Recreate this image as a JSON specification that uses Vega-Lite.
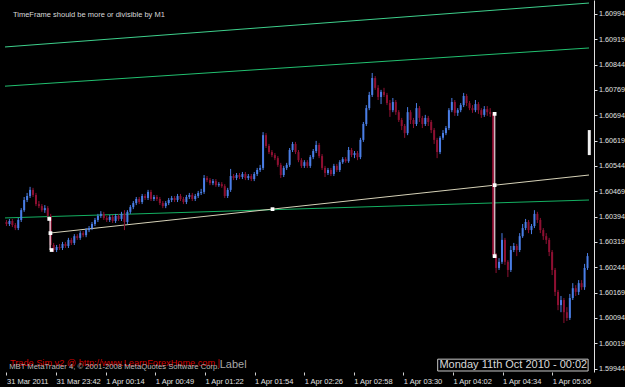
{
"$schema": "https://vega.github.io/schema/vega-lite/v6.json",
"width": 594, "height": 372,
"autosize": {"type": "none"},
"padding": {"left": 0, "top": 0, "right": 31, "bottom": 15},
"background": "#000000",
"config": {"view": {"stroke": null}, "font": "Liberation Sans", "axis": {"labelOverlap": false, "title": null, "grid": false}},
"datasets": {
"bars": [
{"i":0,"o":1.60378,"h":1.60384,"l":1.60366,"c":1.60372},
{"i":1,"o":1.60372,"h":1.60387,"l":1.60366,"c":1.60381},
{"i":2,"o":1.60381,"h":1.60387,"l":1.60363,"c":1.60369},
{"i":3,"o":1.60369,"h":1.60375,"l":1.60354,"c":1.60360},
{"i":4,"o":1.60360,"h":1.60390,"l":1.60354,"c":1.60384},
{"i":5,"o":1.60384,"h":1.60419,"l":1.60378,"c":1.60413},
{"i":6,"o":1.60413,"h":1.60452,"l":1.60408,"c":1.60443},
{"i":7,"o":1.60443,"h":1.60464,"l":1.60437,"c":1.60455},
{"i":8,"o":1.60455,"h":1.60482,"l":1.60449,"c":1.60473},
{"i":9,"o":1.60473,"h":1.60479,"l":1.60452,"c":1.60458},
{"i":10,"o":1.60458,"h":1.60464,"l":1.60425,"c":1.60431},
{"i":11,"o":1.60431,"h":1.60440,"l":1.60419,"c":1.60425},
{"i":12,"o":1.60425,"h":1.60431,"l":1.60408,"c":1.60413},
{"i":13,"o":1.60413,"h":1.60428,"l":1.60405,"c":1.60419},
{"i":14,"o":1.60419,"h":1.60425,"l":1.60390,"c":1.60396},
{"i":15,"o":1.60396,"h":1.60402,"l":1.60295,"c":1.60310},
{"i":16,"o":1.60310,"h":1.60316,"l":1.60289,"c":1.60295},
{"i":17,"o":1.60295,"h":1.60310,"l":1.60289,"c":1.60304},
{"i":18,"o":1.60304,"h":1.60313,"l":1.60295,"c":1.60301},
{"i":19,"o":1.60301,"h":1.60319,"l":1.60295,"c":1.60313},
{"i":20,"o":1.60313,"h":1.60319,"l":1.60301,"c":1.60307},
{"i":21,"o":1.60307,"h":1.60331,"l":1.60301,"c":1.60325},
{"i":22,"o":1.60325,"h":1.60331,"l":1.60310,"c":1.60316},
{"i":23,"o":1.60316,"h":1.60342,"l":1.60310,"c":1.60336},
{"i":24,"o":1.60336,"h":1.60342,"l":1.60325,"c":1.60331},
{"i":25,"o":1.60331,"h":1.60351,"l":1.60325,"c":1.60345},
{"i":26,"o":1.60345,"h":1.60351,"l":1.60333,"c":1.60339},
{"i":27,"o":1.60339,"h":1.60360,"l":1.60333,"c":1.60354},
{"i":28,"o":1.60354,"h":1.60366,"l":1.60348,"c":1.60360},
{"i":29,"o":1.60360,"h":1.60378,"l":1.60354,"c":1.60372},
{"i":30,"o":1.60372,"h":1.60390,"l":1.60366,"c":1.60384},
{"i":31,"o":1.60384,"h":1.60402,"l":1.60378,"c":1.60396},
{"i":32,"o":1.60396,"h":1.60410,"l":1.60390,"c":1.60402},
{"i":33,"o":1.60402,"h":1.60408,"l":1.60384,"c":1.60390},
{"i":34,"o":1.60390,"h":1.60396,"l":1.60378,"c":1.60384},
{"i":35,"o":1.60384,"h":1.60399,"l":1.60378,"c":1.60393},
{"i":36,"o":1.60393,"h":1.60399,"l":1.60375,"c":1.60381},
{"i":37,"o":1.60381,"h":1.60402,"l":1.60375,"c":1.60396},
{"i":38,"o":1.60396,"h":1.60402,"l":1.60381,"c":1.60387},
{"i":39,"o":1.60387,"h":1.60408,"l":1.60381,"c":1.60402},
{"i":40,"o":1.60402,"h":1.60413,"l":1.60354,"c":1.60378},
{"i":41,"o":1.60378,"h":1.60413,"l":1.60372,"c":1.60408},
{"i":42,"o":1.60408,"h":1.60428,"l":1.60402,"c":1.60422},
{"i":43,"o":1.60422,"h":1.60440,"l":1.60416,"c":1.60434},
{"i":44,"o":1.60434,"h":1.60452,"l":1.60428,"c":1.60446},
{"i":45,"o":1.60446,"h":1.60452,"l":1.60431,"c":1.60437},
{"i":46,"o":1.60437,"h":1.60461,"l":1.60431,"c":1.60455},
{"i":47,"o":1.60455,"h":1.60461,"l":1.60443,"c":1.60449},
{"i":48,"o":1.60449,"h":1.60473,"l":1.60443,"c":1.60467},
{"i":49,"o":1.60467,"h":1.60473,"l":1.60440,"c":1.60446},
{"i":50,"o":1.60446,"h":1.60458,"l":1.60440,"c":1.60452},
{"i":51,"o":1.60452,"h":1.60458,"l":1.60440,"c":1.60446},
{"i":52,"o":1.60446,"h":1.60452,"l":1.60428,"c":1.60434},
{"i":53,"o":1.60434,"h":1.60440,"l":1.60419,"c":1.60425},
{"i":54,"o":1.60425,"h":1.60440,"l":1.60419,"c":1.60434},
{"i":55,"o":1.60434,"h":1.60449,"l":1.60428,"c":1.60443},
{"i":56,"o":1.60443,"h":1.60455,"l":1.60437,"c":1.60449},
{"i":57,"o":1.60449,"h":1.60455,"l":1.60437,"c":1.60443},
{"i":58,"o":1.60443,"h":1.60461,"l":1.60437,"c":1.60455},
{"i":59,"o":1.60455,"h":1.60461,"l":1.60440,"c":1.60446},
{"i":60,"o":1.60446,"h":1.60452,"l":1.60431,"c":1.60437},
{"i":61,"o":1.60437,"h":1.60458,"l":1.60431,"c":1.60452},
{"i":62,"o":1.60452,"h":1.60464,"l":1.60446,"c":1.60458},
{"i":63,"o":1.60458,"h":1.60464,"l":1.60440,"c":1.60446},
{"i":64,"o":1.60446,"h":1.60461,"l":1.60440,"c":1.60455},
{"i":65,"o":1.60455,"h":1.60470,"l":1.60449,"c":1.60464},
{"i":66,"o":1.60464,"h":1.60476,"l":1.60458,"c":1.60467},
{"i":67,"o":1.60467,"h":1.60517,"l":1.60461,"c":1.60508},
{"i":68,"o":1.60508,"h":1.60514,"l":1.60496,"c":1.60502},
{"i":69,"o":1.60502,"h":1.60508,"l":1.60487,"c":1.60493},
{"i":70,"o":1.60493,"h":1.60505,"l":1.60487,"c":1.60499},
{"i":71,"o":1.60499,"h":1.60505,"l":1.60482,"c":1.60487},
{"i":72,"o":1.60487,"h":1.60496,"l":1.60482,"c":1.60490},
{"i":73,"o":1.60490,"h":1.60496,"l":1.60479,"c":1.60484},
{"i":74,"o":1.60484,"h":1.60490,"l":1.60449,"c":1.60455},
{"i":75,"o":1.60455,"h":1.60479,"l":1.60449,"c":1.60473},
{"i":76,"o":1.60473,"h":1.60535,"l":1.60467,"c":1.60514},
{"i":77,"o":1.60514,"h":1.60520,"l":1.60502,"c":1.60508},
{"i":78,"o":1.60508,"h":1.60523,"l":1.60502,"c":1.60517},
{"i":79,"o":1.60517,"h":1.60523,"l":1.60505,"c":1.60511},
{"i":80,"o":1.60511,"h":1.60526,"l":1.60505,"c":1.60520},
{"i":81,"o":1.60520,"h":1.60526,"l":1.60502,"c":1.60508},
{"i":82,"o":1.60508,"h":1.60520,"l":1.60502,"c":1.60514},
{"i":83,"o":1.60514,"h":1.60520,"l":1.60499,"c":1.60505},
{"i":84,"o":1.60505,"h":1.60526,"l":1.60499,"c":1.60520},
{"i":85,"o":1.60520,"h":1.60538,"l":1.60514,"c":1.60532},
{"i":86,"o":1.60532,"h":1.60547,"l":1.60526,"c":1.60538},
{"i":87,"o":1.60538,"h":1.60644,"l":1.60532,"c":1.60635},
{"i":88,"o":1.60635,"h":1.60641,"l":1.60597,"c":1.60603},
{"i":89,"o":1.60603,"h":1.60609,"l":1.60579,"c":1.60585},
{"i":90,"o":1.60585,"h":1.60591,"l":1.60570,"c":1.60576},
{"i":91,"o":1.60576,"h":1.60582,"l":1.60561,"c":1.60567},
{"i":92,"o":1.60567,"h":1.60573,"l":1.60541,"c":1.60547},
{"i":93,"o":1.60547,"h":1.60553,"l":1.60508,"c":1.60517},
{"i":94,"o":1.60517,"h":1.60544,"l":1.60511,"c":1.60538},
{"i":95,"o":1.60538,"h":1.60553,"l":1.60532,"c":1.60547},
{"i":96,"o":1.60547,"h":1.60597,"l":1.60541,"c":1.60591},
{"i":97,"o":1.60591,"h":1.60615,"l":1.60585,"c":1.60609},
{"i":98,"o":1.60609,"h":1.60615,"l":1.60579,"c":1.60585},
{"i":99,"o":1.60585,"h":1.60591,"l":1.60555,"c":1.60561},
{"i":100,"o":1.60561,"h":1.60567,"l":1.60538,"c":1.60544},
{"i":101,"o":1.60544,"h":1.60561,"l":1.60538,"c":1.60555},
{"i":102,"o":1.60555,"h":1.60561,"l":1.60538,"c":1.60544},
{"i":103,"o":1.60544,"h":1.60576,"l":1.60538,"c":1.60570},
{"i":104,"o":1.60570,"h":1.60594,"l":1.60564,"c":1.60588},
{"i":105,"o":1.60588,"h":1.60618,"l":1.60582,"c":1.60606},
{"i":106,"o":1.60606,"h":1.60612,"l":1.60567,"c":1.60573},
{"i":107,"o":1.60573,"h":1.60579,"l":1.60532,"c":1.60538},
{"i":108,"o":1.60538,"h":1.60544,"l":1.60511,"c":1.60523},
{"i":109,"o":1.60523,"h":1.60538,"l":1.60517,"c":1.60532},
{"i":110,"o":1.60532,"h":1.60538,"l":1.60514,"c":1.60520},
{"i":111,"o":1.60520,"h":1.60550,"l":1.60514,"c":1.60544},
{"i":112,"o":1.60544,"h":1.60550,"l":1.60526,"c":1.60532},
{"i":113,"o":1.60532,"h":1.60561,"l":1.60526,"c":1.60555},
{"i":114,"o":1.60555,"h":1.60570,"l":1.60550,"c":1.60564},
{"i":115,"o":1.60564,"h":1.60570,"l":1.60553,"c":1.60558},
{"i":116,"o":1.60558,"h":1.60600,"l":1.60553,"c":1.60591},
{"i":117,"o":1.60591,"h":1.60597,"l":1.60570,"c":1.60576},
{"i":118,"o":1.60576,"h":1.60588,"l":1.60567,"c":1.60582},
{"i":119,"o":1.60582,"h":1.60588,"l":1.60561,"c":1.60570},
{"i":120,"o":1.60570,"h":1.60627,"l":1.60564,"c":1.60621},
{"i":121,"o":1.60621,"h":1.60674,"l":1.60615,"c":1.60668},
{"i":122,"o":1.60668,"h":1.60724,"l":1.60662,"c":1.60715},
{"i":123,"o":1.60715,"h":1.60763,"l":1.60709,"c":1.60754},
{"i":124,"o":1.60754,"h":1.60819,"l":1.60748,"c":1.60804},
{"i":125,"o":1.60804,"h":1.60810,"l":1.60769,"c":1.60775},
{"i":126,"o":1.60775,"h":1.60783,"l":1.60739,"c":1.60748},
{"i":127,"o":1.60748,"h":1.60769,"l":1.60727,"c":1.60763},
{"i":128,"o":1.60763,"h":1.60775,"l":1.60748,"c":1.60754},
{"i":129,"o":1.60754,"h":1.60760,"l":1.60724,"c":1.60730},
{"i":130,"o":1.60730,"h":1.60739,"l":1.60689,"c":1.60709},
{"i":131,"o":1.60709,"h":1.60745,"l":1.60703,"c":1.60733},
{"i":132,"o":1.60733,"h":1.60739,"l":1.60695,"c":1.60703},
{"i":133,"o":1.60703,"h":1.60709,"l":1.60674,"c":1.60680},
{"i":134,"o":1.60680,"h":1.60686,"l":1.60650,"c":1.60662},
{"i":135,"o":1.60662,"h":1.60668,"l":1.60627,"c":1.60641},
{"i":136,"o":1.60641,"h":1.60718,"l":1.60635,"c":1.60703},
{"i":137,"o":1.60703,"h":1.60709,"l":1.60668,"c":1.60680},
{"i":138,"o":1.60680,"h":1.60686,"l":1.60656,"c":1.60668},
{"i":139,"o":1.60668,"h":1.60730,"l":1.60662,"c":1.60715},
{"i":140,"o":1.60715,"h":1.60721,"l":1.60674,"c":1.60686},
{"i":141,"o":1.60686,"h":1.60692,"l":1.60656,"c":1.60668},
{"i":142,"o":1.60668,"h":1.60695,"l":1.60662,"c":1.60686},
{"i":143,"o":1.60686,"h":1.60692,"l":1.60662,"c":1.60674},
{"i":144,"o":1.60674,"h":1.60680,"l":1.60641,"c":1.60650},
{"i":145,"o":1.60650,"h":1.60656,"l":1.60609,"c":1.60621},
{"i":146,"o":1.60621,"h":1.60627,"l":1.60567,"c":1.60585},
{"i":147,"o":1.60585,"h":1.60632,"l":1.60579,"c":1.60627},
{"i":148,"o":1.60627,"h":1.60650,"l":1.60621,"c":1.60641},
{"i":149,"o":1.60641,"h":1.60662,"l":1.60635,"c":1.60656},
{"i":150,"o":1.60656,"h":1.60715,"l":1.60650,"c":1.60709},
{"i":151,"o":1.60709,"h":1.60745,"l":1.60703,"c":1.60733},
{"i":152,"o":1.60733,"h":1.60739,"l":1.60692,"c":1.60701},
{"i":153,"o":1.60701,"h":1.60715,"l":1.60692,"c":1.60709},
{"i":154,"o":1.60709,"h":1.60730,"l":1.60703,"c":1.60724},
{"i":155,"o":1.60724,"h":1.60760,"l":1.60718,"c":1.60751},
{"i":156,"o":1.60751,"h":1.60757,"l":1.60721,"c":1.60730},
{"i":157,"o":1.60730,"h":1.60736,"l":1.60709,"c":1.60715},
{"i":158,"o":1.60715,"h":1.60724,"l":1.60701,"c":1.60709},
{"i":159,"o":1.60709,"h":1.60739,"l":1.60703,"c":1.60727},
{"i":160,"o":1.60727,"h":1.60733,"l":1.60698,"c":1.60709},
{"i":161,"o":1.60709,"h":1.60715,"l":1.60686,"c":1.60695},
{"i":162,"o":1.60695,"h":1.60721,"l":1.60689,"c":1.60712},
{"i":163,"o":1.60712,"h":1.60721,"l":1.60692,"c":1.60703},
{"i":164,"o":1.60703,"h":1.60715,"l":1.60689,"c":1.60698},
{"i":165,"o":1.60698,"h":1.60703,"l":1.60274,"c":1.60280},
{"i":166,"o":1.60280,"h":1.60286,"l":1.60227,"c":1.60242},
{"i":167,"o":1.60242,"h":1.60271,"l":1.60236,"c":1.60260},
{"i":168,"o":1.60260,"h":1.60345,"l":1.60254,"c":1.60325},
{"i":169,"o":1.60325,"h":1.60331,"l":1.60251,"c":1.60260},
{"i":170,"o":1.60260,"h":1.60265,"l":1.60215,"c":1.60236},
{"i":171,"o":1.60236,"h":1.60307,"l":1.60230,"c":1.60295},
{"i":172,"o":1.60295,"h":1.60316,"l":1.60289,"c":1.60307},
{"i":173,"o":1.60307,"h":1.60313,"l":1.60277,"c":1.60295},
{"i":174,"o":1.60295,"h":1.60345,"l":1.60289,"c":1.60336},
{"i":175,"o":1.60336,"h":1.60372,"l":1.60331,"c":1.60360},
{"i":176,"o":1.60360,"h":1.60387,"l":1.60354,"c":1.60378},
{"i":177,"o":1.60378,"h":1.60384,"l":1.60345,"c":1.60354},
{"i":178,"o":1.60354,"h":1.60372,"l":1.60342,"c":1.60366},
{"i":179,"o":1.60366,"h":1.60413,"l":1.60360,"c":1.60402},
{"i":180,"o":1.60402,"h":1.60408,"l":1.60375,"c":1.60384},
{"i":181,"o":1.60384,"h":1.60390,"l":1.60345,"c":1.60354},
{"i":182,"o":1.60354,"h":1.60360,"l":1.60325,"c":1.60336},
{"i":183,"o":1.60336,"h":1.60345,"l":1.60313,"c":1.60325},
{"i":184,"o":1.60325,"h":1.60331,"l":1.60277,"c":1.60289},
{"i":185,"o":1.60289,"h":1.60295,"l":1.60221,"c":1.60236},
{"i":186,"o":1.60236,"h":1.60242,"l":1.60159,"c":1.60171},
{"i":187,"o":1.60171,"h":1.60177,"l":1.60117,"c":1.60132},
{"i":188,"o":1.60132,"h":1.60159,"l":1.60111,"c":1.60147},
{"i":189,"o":1.60147,"h":1.60153,"l":1.60079,"c":1.60111},
{"i":190,"o":1.60111,"h":1.60126,"l":1.60085,"c":1.60094},
{"i":191,"o":1.60094,"h":1.60165,"l":1.60088,"c":1.60153},
{"i":192,"o":1.60153,"h":1.60197,"l":1.60147,"c":1.60182},
{"i":193,"o":1.60182,"h":1.60191,"l":1.60159,"c":1.60171},
{"i":194,"o":1.60171,"h":1.60206,"l":1.60162,"c":1.60197},
{"i":195,"o":1.60197,"h":1.60206,"l":1.60177,"c":1.60185},
{"i":196,"o":1.60185,"h":1.60254,"l":1.60177,"c":1.60242},
{"i":197,"o":1.60242,"h":1.60286,"l":1.60236,"c":1.60277}
],
"lines": [
{"s":"a","i":-0.5,"p":1.60896},{"s":"a","i":197.5,"p":1.61026},
{"s":"b","i":-0.5,"p":1.60780},{"s":"b","i":197.5,"p":1.60893},
{"s":"c","i":-0.5,"p":1.60390},{"s":"c","i":197.5,"p":1.60443},
{"s":"t","i":14.5,"p":1.60345},{"s":"t","i":197.5,"p":1.60517}
],
"trades": [
{"i":14.8,"p1":1.60387,"p2":1.60295},
{"i":165.5,"p1":1.60698,"p2":1.60277}
],
"pins": [
{"i":14.5,"p":1.60387},{"i":14.9,"p":1.60345},{"i":15.3,"p":1.60295},
{"i":90.2,"p":1.60416},
{"i":165.5,"p":1.60698},{"i":165.5,"p":1.60487},{"i":165.5,"p":1.60277}
],
"one": [{}]
},
"layer": [
{"data": {"name": "lines"},
 "mark": {"type": "line", "strokeWidth": 1, "clip": true},
 "encoding": {
  "x": {"field": "i", "type": "quantitative", "scale": {"domain": [-0.5, 197.5], "nice": false, "zero": false},
   "axis": {"values": [0, 16.82, 33.64, 50.46, 67.28, 84.1, 100.92, 117.74, 134.56, 151.38, 168.2, 185.02],
    "labelExpr": "['31 Mar 2011','31 Mar 23:42','1 Apr 00:14','1 Apr 00:49','1 Apr 01:22','1 Apr 01:54','1 Apr 02:26','1 Apr 02:58','1 Apr 03:30','1 Apr 04:02','1 Apr 04:34','1 Apr 05:06'][round(datum.value/16.82)]",
    "tickCount": 30,
    "domain": false, "grid": false, "title": null, "tickColor": "#d0d0d0", "tickSize": 3,
    "labelColor": "#e0e0e0", "labelFontSize": 7.5, "labelFont": "Liberation Sans", "labelAlign": "left", "labelPadding": 2,
    "labelFlush": false, "labelOverlap": false, "labelBound": false}},
  "y": {"field": "p", "type": "quantitative", "scale": {"domain": [1.59934, 1.61035], "nice": false, "zero": false},
   "axis": {"orient": "right", "values": [1.59944, 1.60019, 1.60094, 1.60169, 1.60244, 1.60319, 1.60394, 1.60469, 1.60544, 1.60619, 1.60694, 1.60769, 1.60844, 1.60919, 1.60994],
    "tickCount": 30,
    "format": ".5f", "grid": false, "title": null, "domainColor": "#e0e0e0", "tickColor": "#e0e0e0", "tickSize": 3,
    "labelColor": "#e0e0e0", "labelFontSize": 7.2, "labelFont": "Liberation Sans", "labelPadding": 1.5,
    "labelFlush": false, "labelOverlap": false, "labelBound": false}},
  "detail": {"field": "s"},
  "color": {"field": "s", "type": "nominal", "legend": null,
   "scale": {"domain": ["a", "b", "c", "t"], "range": ["#3ed08c", "#22c070", "#14b062", "#d6d2b8"]}}
 }},
{"data": {"name": "bars"},
 "mark": {"type": "rule", "strokeWidth": 1},
 "encoding": {
  "x": {"field": "i", "type": "quantitative"},
  "y": {"field": "l", "type": "quantitative"},
  "y2": {"field": "h"},
  "color": {"condition": {"test": "datum.c >= datum.o", "value": "#4a7ee6"}, "value": "#8e1032"}
 }},
{"data": {"name": "bars"},
 "mark": {"type": "bar", "size": 2},
 "encoding": {
  "x": {"field": "i", "type": "quantitative"},
  "y": {"field": "o", "type": "quantitative"},
  "y2": {"field": "c"},
  "color": {"condition": {"test": "datum.c >= datum.o", "value": "#4a7ee6"}, "value": "#8e1032"}
 }},
{"data": {"name": "trades"},
 "mark": {"type": "rule", "strokeWidth": 1.5, "color": "#f0d8e0", "opacity": 0.85},
 "encoding": {
  "x": {"field": "i", "type": "quantitative"},
  "y": {"field": "p1", "type": "quantitative"},
  "y2": {"field": "p2"}
 }},
{"data": {"name": "pins"},
 "mark": {"type": "square", "size": 14, "filled": true, "color": "#ffffff", "opacity": 1},
 "encoding": {
  "x": {"field": "i", "type": "quantitative"},
  "y": {"field": "p", "type": "quantitative"}
 }},
{"data": {"name": "one"},
 "mark": {"type": "rule", "strokeWidth": 3, "color": "#f0f0f0"},
 "encoding": {"x": {"datum": 197.6, "type": "quantitative"}, "y": {"datum": 1.60650, "type": "quantitative"}, "y2": {"datum": 1.60576}}},
{"data": {"name": "one"},
 "mark": {"type": "text", "align": "left", "baseline": "middle", "fontSize": 7.5, "color": "#d8d8d8", "font": "Liberation Sans"},
 "encoding": {"x": {"datum": 2.2, "type": "quantitative"}, "y": {"datum": 1.60991, "type": "quantitative"}, "text": {"value": "TimeFrame should be more or divisible by M1"}}},
{"data": {"name": "one"},
 "mark": {"type": "text", "align": "left", "baseline": "middle", "fontSize": 9.2, "color": "#d00000", "font": "Liberation Sans"},
 "encoding": {"x": {"datum": 1.2, "type": "quantitative"}, "y": {"datum": 1.59962, "type": "quantitative"}, "text": {"value": "Trade Sim v2 @ http://www.LearnForexHome.com |"}}},
{"data": {"name": "one"},
 "mark": {"type": "text", "align": "left", "baseline": "middle", "fontSize": 7.7, "color": "#b8b8b8", "font": "Liberation Sans"},
 "encoding": {"x": {"datum": 0.9, "type": "quantitative"}, "y": {"datum": 1.59949, "type": "quantitative"}, "text": {"value": "MBT MetaTrader 4, © 2001-2008 MetaQuotes Software Corp."}}},
{"data": {"name": "one"},
 "mark": {"type": "text", "align": "left", "baseline": "middle", "fontSize": 11, "color": "#a8a8a8", "font": "Liberation Sans"},
 "encoding": {"x": {"datum": 72.3, "type": "quantitative"}, "y": {"datum": 1.59956, "type": "quantitative"}, "text": {"value": "Label"}}},
{"data": {"name": "one"},
 "mark": {"type": "rect", "filled": false, "stroke": "#c8c8c8", "strokeWidth": 1},
 "encoding": {"x": {"datum": 146.2, "type": "quantitative"}, "x2": {"datum": 197.2}, "y": {"datum": 1.59972, "type": "quantitative"}, "y2": {"datum": 1.59937}}},
{"data": {"name": "one"},
 "mark": {"type": "text", "align": "left", "baseline": "middle", "fontSize": 11, "color": "#d8d8d8", "font": "Liberation Sans"},
 "encoding": {"x": {"datum": 146.8, "type": "quantitative"}, "y": {"datum": 1.59954, "type": "quantitative"}, "text": {"value": "Monday 11th Oct 2010 - 00:02"}}}
]
}
